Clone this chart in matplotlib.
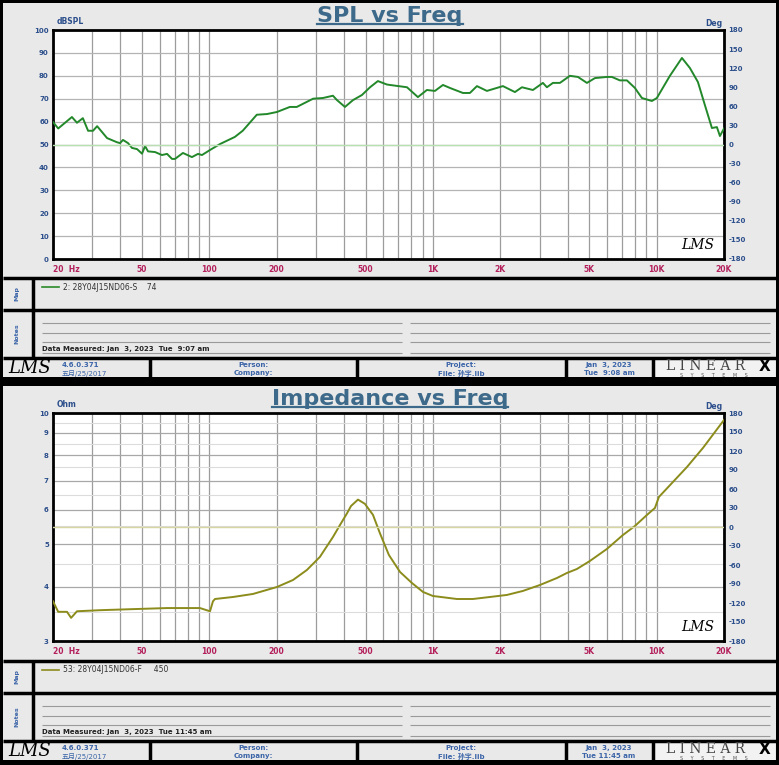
import numpy as np
import matplotlib
matplotlib.use("Agg")
import matplotlib.pyplot as plt
from matplotlib.ticker import FixedLocator, FixedFormatter, NullFormatter
from matplotlib.patches import Rectangle

plt.rcParams['axes.unicode_minus'] = False

W, H = 779, 765

# ---------------- data ----------------
spl_freq = [20, 21.1, 24.3, 25.6, 27.2, 28.7, 30.2, 31.5, 34.9, 38.6,
            39.9, 41.1, 43.3, 45.1, 47.5, 50.0, 51.6, 53.2, 57.2, 61.4,
            64.7, 68.1, 70.2, 76.2, 83.6, 89, 92.7, 100.7, 111.6, 130,
            141, 147, 163, 181, 200.6, 229, 246, 291, 322, 357,
            372, 404, 439, 481, 523, 567, 622, 642, 765, 856,
            939, 1020, 1108, 1190, 1361, 1462, 1572, 1742, 1797, 2054,
            2324, 2498, 2797, 3100, 3230, 3438, 3694, 4094, 4446, 4878,
            5296, 5992, 6308, 6848, 7361, 7992, 8590, 9522, 10020, 11460,
            12970, 14080, 15290, 16430, 17660, 18590, 19180, 20000]
spl_db = [59.8, 57, 62, 59.5, 61.5, 56, 56, 58, 52.8, 51,
          50.6, 52, 50.6, 48.5, 48, 46, 49.3, 47, 46.7, 45.4,
          45.9, 43.7, 43.7, 46.3, 44.5, 45.9, 45.4, 47.6, 50.2, 53.3,
          56, 58, 63, 63.3, 64.2, 66.4, 66.4, 70, 70.3, 71.3,
          69.4, 66.4, 69.4, 71.6, 75, 77.7, 76.2, 76, 75, 70.7,
          73.8, 73.4, 76, 74.7, 72.5, 72.5, 75.5, 73.4, 73.8, 75.5,
          72.9, 75, 73.8, 76.9, 75, 76.9, 76.9, 80, 79.5, 76.9,
          79, 79.5, 79.5, 78, 78, 74.7, 70.3, 69, 70.3, 80,
          87.8, 83.4, 77.3, 67.2, 57.2, 57.6, 53.7, 57]

imp_freq = [20, 21.1, 23.1, 24.1, 25.6, 32.4, 45.6, 64.7, 79.4, 90.8,
            100.7, 103.8, 106, 127.6, 156.7, 200.6, 236.6, 273, 312, 357,
            385, 412, 430, 462, 496, 539, 579, 635, 712, 805,
            902, 999, 1279, 1508, 1797, 2140, 2524, 3006, 3582, 3971,
            4400, 5030, 5992, 7064, 7992, 9046, 9820, 10232, 11820, 13656,
            16100, 20000]
imp_ohm = [3.70, 3.50, 3.50, 3.39, 3.51, 3.53, 3.55, 3.57, 3.57, 3.57,
           3.51, 3.70, 3.745, 3.785, 3.846, 3.99, 4.14, 4.365, 4.676, 5.195,
           5.55, 5.88, 6.12, 6.33, 6.19, 5.84, 5.3, 4.725, 4.32, 4.075,
           3.887, 3.805, 3.745, 3.745, 3.785, 3.826, 3.908, 4.032, 4.184, 4.297,
           4.388, 4.578, 4.878, 5.25, 5.506, 5.837, 6.055, 6.418, 6.946, 7.517,
           8.313, 9.64]

freq_ticks = [20, 50, 100, 200, 500, 1000, 2000, 5000, 10000, 20000]
freq_labels = ['20  Hz', '50', '100', '200', '500', '1K', '2K', '5K', '10K', '20K']
freq_grid = [30, 40, 60, 70, 80, 90, 300, 400, 600, 700, 800, 900,
             3000, 4000, 6000, 7000, 8000, 9000]
deg_ticks = list(range(-180, 181, 30))
ohm_ticks = [3, 4, 5, 6, 7, 8, 9, 10]
ohm_minor = [3.5, 4.5, 5.5, 6.5, 7.5, 8.5, 9.5]

BG = '#e9e9e9'
NAVY = '#2c4f8c'
RED = '#b3205c'
TITLE = '#3d6a8a'
CJK = ['DejaVu Sans', 'Noto Sans CJK SC']

fig = plt.figure(figsize=(W / 100, H / 100), dpi=100, facecolor='black')
bg = fig.add_axes([0, 0, 1, 1])
bg.set_xlim(0, W)
bg.set_ylim(H, 0)
bg.axis('off')
bg.set_zorder(0)


def rect(x0, y0, x1, y1, fc):
    bg.add_patch(Rectangle((x0, y0), x1 - x0, y1 - y0, facecolor=fc, edgecolor='none'))


def hline(y, x0, x1, c='black', lw=2.5):
    bg.plot([x0, x1], [y, y], color=c, lw=lw, solid_capstyle='butt')


def vline(x, y0, y1, c='black', lw=2.5):
    bg.plot([x, x], [y0, y1], color=c, lw=lw, solid_capstyle='butt')


titles = []


def panel(oy, title, ylab, legend_txt, legend_col, measured, date2):
    # frame of one LMS report sheet
    rect(3, oy + 3, 776, oy + 377, BG)
    hline(oy + 278, 3, 776)
    hline(oy + 310, 3, 776)
    hline(oy + 358, 3, 776)
    vline(33, oy + 278, oy + 358)
    for xv in (150, 357, 566, 653):
        vline(xv, oy + 358, oy + 378)
    rect(654, oy + 360, 775, oy + 377, '#f2f2f2')
    t = bg.text(390, oy + 22, title, ha='center', va='baseline', fontsize=16,
                fontweight='bold', color=TITLE)
    titles.append(t)
    bg.text(57, oy + 26, ylab, ha='left', va='bottom', fontsize=5.5,
            fontweight='bold', color=NAVY)
    bg.text(722, oy + 28, 'Deg', ha='right', va='bottom', fontsize=5.5,
            fontweight='bold', color=NAVY)
    # map strip
    bg.text(17, oy + 294, 'Map', rotation=90, ha='center', va='center',
            fontsize=4.5, fontweight='bold', color='#3b64a8')
    bg.plot([42, 59], [oy + 287, oy + 287], color=legend_col, lw=1.2)
    bg.text(63, oy + 287, legend_txt, ha='left', va='center', fontsize=5.5,
            color='#333333')
    # notes strip
    bg.text(17, oy + 334, 'Notes', rotation=90, ha='center', va='center',
            fontsize=4.5, fontweight='bold', color='#3b64a8')
    for yv in (323, 333, 342, 353):
        hline(oy + yv, 42, 402, c='#9a9a9a', lw=0.8)
        hline(oy + yv, 410, 770, c='#9a9a9a', lw=0.8)
    bg.text(42, oy + 352, measured, ha='left', va='bottom', fontsize=5,
            fontweight='bold', color='#222222')
    # footer
    fy = oy + 368
    bg.text(30, fy, 'LMS', ha='center', va='center', fontsize=13,
            style='italic', family='DejaVu Serif', color='black')
    bg.text(62, fy - 3, '4.6.0.371', ha='left', va='center', fontsize=5,
            fontweight='bold', color='#3b64a8')
    bg.text(62, fy + 5, '五月/25/2017', ha='left', va='center', fontsize=5,
            color='#3b64a8', family=CJK)
    bg.text(253, fy - 3, 'Person:', ha='center', va='center', fontsize=5,
            fontweight='bold', color='#3b64a8')
    bg.text(253, fy + 5, 'Company:', ha='center', va='center', fontsize=5,
            fontweight='bold', color='#3b64a8')
    bg.text(461, fy - 3, 'Project:', ha='center', va='center', fontsize=5,
            fontweight='bold', color='#3b64a8')
    bg.text(461, fy + 5, 'File: 孙宇.lib', ha='center', va='center', fontsize=5,
            fontweight='bold', color='#3b64a8', family=CJK)
    bg.text(609, fy - 3, 'Jan  3, 2023', ha='center', va='center', fontsize=5,
            fontweight='bold', color='#3b64a8')
    bg.text(609, fy + 5, date2, ha='center', va='center', fontsize=5,
            fontweight='bold', color='#3b64a8')
    bg.text(706, fy - 2, 'L I N E A R', ha='center', va='center', fontsize=10,
            family='DejaVu Serif', color='#444444')
    bg.text(765, fy - 2, 'X', ha='center', va='center', fontsize=11,
            fontweight='bold', color='black')
    bg.text(714, fy + 7, 'S     Y     S     T     E     M     S', ha='center',
            va='center', fontsize=3.5, color='#555555')


def style_freq(ax):
    ax.set_xscale('log')
    ax.set_xlim(20, 20000)
    ax.xaxis.set_major_locator(FixedLocator(freq_ticks))
    ax.xaxis.set_major_formatter(FixedFormatter(freq_labels))
    ax.xaxis.set_minor_locator(FixedLocator(freq_grid))
    ax.xaxis.set_minor_formatter(NullFormatter())
    ax.grid(True, axis='x', which='both', color='#9c9c9c', lw=0.9)
    ax.tick_params(axis='x', which='both', length=0, pad=4, labelsize=5.5,
                   labelcolor=RED)
    for lab in ax.get_xticklabels():
        lab.set_fontweight('bold')
    ax.get_xticklabels()[0].set_ha('left')
    for s in ax.spines.values():
        s.set_color('black')
        s.set_linewidth(2)


def style_deg(ax2, zero_col):
    ax2.set_ylim(-180, 180)
    ax2.set_yticks(deg_ticks)
    ax2.tick_params(axis='y', length=0, pad=3, labelsize=5, labelcolor=NAVY)
    for lab in ax2.get_yticklabels():
        lab.set_fontweight('bold')
    ax2.axhline(0, color=zero_col, lw=1)
    for s in ax2.spines.values():
        s.set_visible(False)


# ---------------- top sheet: SPL ----------------
panel(0, 'SPL vs Freq', 'dBSPL', '2: 28Y04J15ND06-S    74', '#2a8a2a',
      'Data Measured: Jan  3, 2023  Tue  9:07 am', 'Tue  9:08 am')
ax = fig.add_axes([53 / W, 1 - 259 / H, 671 / W, 229 / H])
ax.set_ylim(0, 100)
ax.set_yticks(range(0, 101, 10))
ax.grid(True, axis='y', color='#b4b4b4', lw=0.9)
ax.tick_params(axis='y', length=0, pad=3, labelsize=5, labelcolor=NAVY)
for lab in ax.get_yticklabels():
    lab.set_fontweight('bold')
style_freq(ax)
ax.plot(spl_freq, spl_db, color='#22882a', lw=1.4, zorder=3)
ax.text(0.985, 0.03, 'LMS', transform=ax.transAxes, ha='right', va='bottom',
        fontsize=10, style='italic', family='DejaVu Serif', color='black')
ax2 = ax.twinx()
style_deg(ax2, '#b9e0b3')

# ---------------- bottom sheet: impedance ----------------
panel(383, 'Impedance vs Freq', 'Ohm', '53: 28Y04J15ND06-F     450', '#8c8c1c',
      'Data Measured: Jan  3, 2023  Tue 11:45 am', 'Tue 11:45 am')
bx = fig.add_axes([53 / W, 1 - 641 / H, 671 / W, 228 / H])
bx.set_yscale('log')
bx.set_ylim(3, 10)
bx.yaxis.set_major_locator(FixedLocator(ohm_ticks))
bx.yaxis.set_major_formatter(FixedFormatter([str(v) for v in ohm_ticks]))
bx.yaxis.set_minor_locator(FixedLocator(ohm_minor))
bx.yaxis.set_minor_formatter(NullFormatter())
bx.grid(True, axis='y', which='major', color='#a8a8a8', lw=0.9)
bx.grid(True, axis='y', which='minor', color='#dcdcdc', lw=0.8)
bx.tick_params(axis='y', which='both', length=0, pad=3, labelsize=5,
               labelcolor=NAVY)
for lab in bx.get_yticklabels():
    lab.set_fontweight('bold')
style_freq(bx)
bx.plot(imp_freq, imp_ohm, color='#8c8c1c', lw=1.4, zorder=3)
bx.text(0.985, 0.03, 'LMS', transform=bx.transAxes, ha='right', va='bottom',
        fontsize=10, style='italic', family='DejaVu Serif', color='black')
bx2 = bx.twinx()
style_deg(bx2, '#d6d6a2')

# underline the titles just under the baseline
fig.canvas.draw()
inv = bg.transData.inverted()
for t in titles:
    bb = t.get_window_extent()
    (x0, _), (x1, _) = inv.transform([[bb.x0, bb.y0], [bb.x1, bb.y1]])
    yb = t.get_position()[1] + 2
    bg.plot([x0, x1], [yb, yb], color=TITLE, lw=1.6)

fig.savefig('out.png', dpi=100, facecolor=fig.get_facecolor())
